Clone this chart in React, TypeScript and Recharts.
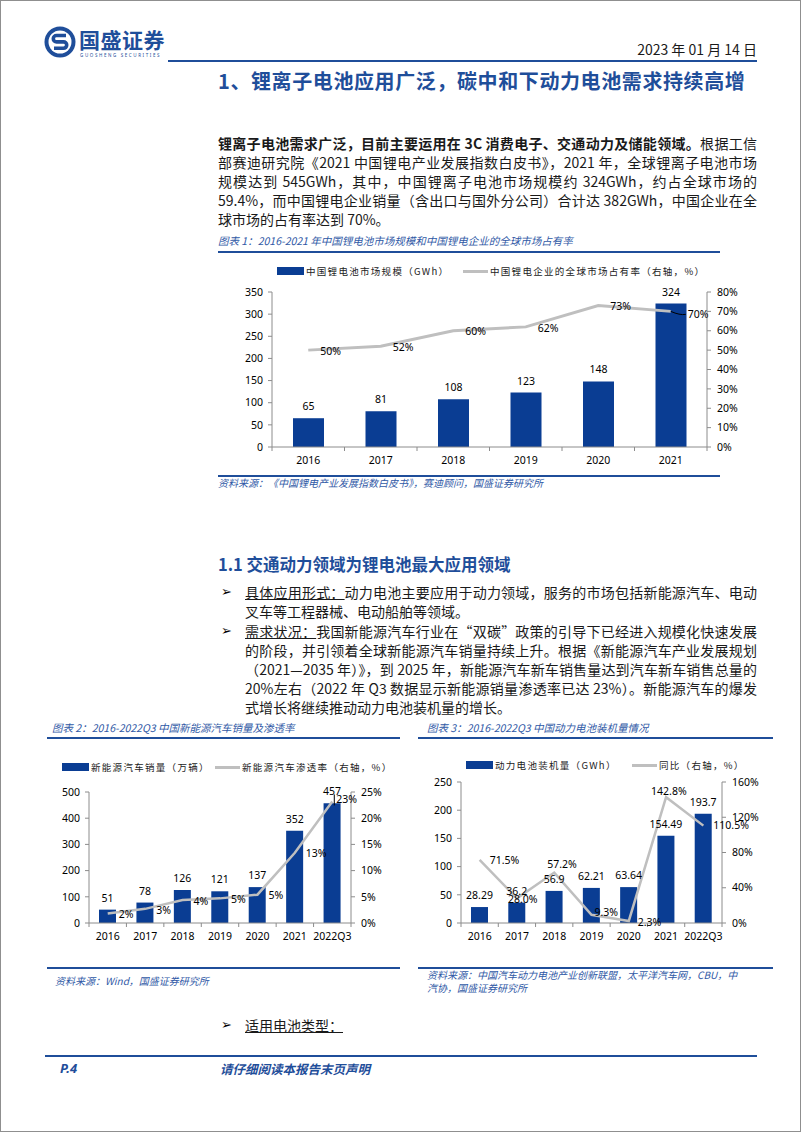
import React from 'react';
import { ComposedChart, Bar, Line, XAxis, YAxis, LabelList } from 'recharts';

// ---------- data ----------
// Chart 1
const years1 = ['2016', '2017', '2018', '2019', '2020', '2021'];
const marketSize = [65, 81, 108, 123, 148, 324];
const globalShare = [50, 52, 60, 62, 73, 70];
const leftTicks1 = [0, 50, 100, 150, 200, 250, 300, 350];
const rightTicks1 = [0, 10, 20, 30, 40, 50, 60, 70, 80];

// Chart 2
const years2 = ['2016', '2017', '2018', '2019', '2020', '2021', '2022Q3'];
const nevSales = [51, 78, 126, 121, 137, 352, 457];
const nevPenetration = [1.8, 2.7, 4.4, 4.7, 5.4, 13.4, 23.2];
const leftTicks2 = [0, 100, 200, 300, 400, 500];
const rightTicks2 = [0, 5, 10, 15, 20, 25];

// Chart 3
const years3 = ['2016', '2017', '2018', '2019', '2020', '2021', '2022Q3'];
const batteryInstalled = [28.29, 36.2, 56.9, 62.21, 63.64, 154.49, 193.7];
const batteryYoY = [71.5, 28.0, 57.2, 9.3, 2.3, 142.8, 110.5];
const leftTicks3 = [0, 50, 100, 150, 200, 250];
const rightTicks3 = [0, 40, 80, 120, 160];

const data1 = years1.map((c, i) => ({ cat: c, bar: marketSize[i], line: globalShare[i] }));
const data2 = years2.map((c, i) => ({ cat: c, bar: nevSales[i], line: nevPenetration[i] }));
const data3 = years3.map((c, i) => ({ cat: c, bar: batteryInstalled[i], line: batteryYoY[i] }));

// ---------- styles ----------
const BLUE = '#1f4e9a';
const CAP_BLUE = '#3059a6';
const BAR = '#0a3d93';
const GREY_LINE = '#bfbfbf';
const AXIS = '#8c8c8c';
const FONT_CJK = '"Noto Sans CJK SC", "Noto Sans", sans-serif';
const FONT_NUM = '"Noto Sans", "DejaVu Sans", sans-serif';
const NUM_SIZE = 10.5;

// label nudges for chart 3 line labels (dx from point to label start, dy)
const NUDGE3: [number, number][] = [[10, 0], [-9, 1], [-7, -8], [3, -2], [9, 1], [-15, -6], [10, 0]];

function pt(props: any, values: number[]) {
  const vb = props.viewBox || {};
  const x = props.x != null ? props.x : (vb.x || 0) + (vb.width || 0) / 2;
  const y = props.y != null ? props.y : (vb.y || 0) + (vb.height || 0) / 2;
  const value = props.value;
  const index = props.index != null ? props.index : values.indexOf(value);
  return { x, y, value, index };
}

const shareLabel = (props: any) => {
  const { x, y, value, index } = pt(props, globalShare);
  const last = index === globalShare.length - 1;
  return (
    <g>
      {last && <path d={`M${x} ${y} Q${x + 9} ${y + 4} ${x + 15} ${y + 3}`} stroke="#000" fill="none" strokeWidth={1} />}
      <text x={x + (last ? 17 : 12)} y={y + (last ? 3 : 1)} dy="0.35em" fontSize={NUM_SIZE} fontFamily={FONT_NUM} fill="#000">
        {Number(value).toFixed(0)}%
      </text>
    </g>
  );
};

const penLabel = (props: any) => {
  const { x, y, value, index } = pt(props, nevPenetration);
  const last = index === nevPenetration.length - 1;
  return (
    <g>
      {last && <line x1={x + 2} x2={x + 2} y1={y - 7} y2={y + 4} stroke="#000" strokeWidth={1} />}
      <text x={x + (last ? 4 : 11)} y={y + (last ? -2 : 1)} dy="0.35em" fontSize={NUM_SIZE} fontFamily={FONT_NUM} fill="#000">
        {Number(value).toFixed(0)}%
      </text>
    </g>
  );
};

const yoyLabel = (props: any) => {
  const { x, y, value, index } = pt(props, batteryYoY);
  const n = NUDGE3[index] || [10, 0];
  return (
    <text x={x + n[0]} y={y + n[1]} dy="0.35em" fontSize={NUM_SIZE} fontFamily={FONT_NUM} fill="#000">
      {Number(value).toFixed(1)}%
    </text>
  );
};

type ChartProps = {
  data: any[];
  x: number; y: number; w: number; h: number;
  plotL: number; plotR: number; plotT: number; plotB: number;
  leftTicks: number[]; rightTicks: number[];
  barSize: number; lineW: number;
  lineLabel: (p: any) => any;
};

function DualChart(p: ChartProps) {
  const n = p.data.length;
  const band = (p.plotR - p.plotL) / n;
  const xAxisH = 26;
  const axisY = p.plotB - p.y;
  const margin = { top: p.plotT - p.y, left: 0, right: 0, bottom: p.h - (p.plotB - p.y) - xAxisH };
  const tickStyle = { fill: '#000', fontSize: NUM_SIZE, fontFamily: FONT_NUM };
  const XTick = (tp: any) => {
    const cx = tp.x;
    const idx = tp.index;
    return (
      <g>
        <line x1={cx - band / 2} x2={cx - band / 2} y1={axisY} y2={axisY + 4} stroke={AXIS} strokeWidth={1} />
        {idx === n - 1 && <line x1={cx + band / 2} x2={cx + band / 2} y1={axisY} y2={axisY + 4} stroke={AXIS} strokeWidth={1} />}
        <text x={cx} y={axisY + 17} textAnchor="middle" {...tickStyle}>{tp.payload.value}</text>
      </g>
    );
  };
  const lt = p.leftTicks, rt = p.rightTicks;
  return (
    <div style={{ position: 'absolute', left: p.x, top: p.y }}>
      <ComposedChart width={p.w} height={p.h} data={p.data} margin={margin}>
        <XAxis xAxisId="x" dataKey="cat" height={xAxisH} interval={0} tickLine={false} tickSize={0} tickMargin={0}
          axisLine={{ stroke: AXIS }} tick={(tp: any) => <XTick {...tp} />} />
        <YAxis yAxisId="l" orientation="left" width={p.plotL - p.x} domain={[lt[0], lt[lt.length - 1]]} ticks={lt}
          interval={0} tickSize={4} tickMargin={5} axisLine={{ stroke: AXIS }} tickLine={{ stroke: AXIS }} tick={tickStyle} />
        <YAxis yAxisId="r" orientation="right" width={p.x + p.w - p.plotR} domain={[rt[0], rt[rt.length - 1]]} ticks={rt}
          interval={0} tickSize={4} tickMargin={6} axisLine={{ stroke: AXIS }} tickLine={{ stroke: AXIS }} tick={tickStyle}
          tickFormatter={(v: number) => `${v}%`} />
        <Bar xAxisId="x" yAxisId="l" dataKey="bar" fill={BAR} barSize={p.barSize} isAnimationActive={false}>
          <LabelList dataKey="bar" position="top" offset={8} fill="#000" fontSize={NUM_SIZE} fontFamily={FONT_NUM} />
        </Bar>
        <Line xAxisId="x" yAxisId="r" type="linear" dataKey="line" stroke={GREY_LINE} strokeWidth={p.lineW} dot={false}
          isAnimationActive={false}>
          <LabelList dataKey="line" content={p.lineLabel} />
        </Line>
      </ComposedChart>
    </div>
  );
}

// ---------- text helpers ----------
function T(props: { x: number; y: number; size: number; children: any; style?: React.CSSProperties; right?: boolean; lhf?: number }) {
  const lh = Math.round(props.size * (props.lhf || 1.4));
  const pos: React.CSSProperties = props.right ? { right: 802 - props.x } : { left: props.x };
  return (
    <div style={{ position: 'absolute', ...pos, top: props.y - lh / 2, lineHeight: `${lh}px`, fontSize: props.size, whiteSpace: 'nowrap', ...props.style }}>
      {props.children}
    </div>
  );
}

function J(props: { x: number; y: number; w: number; size: number; children: any; last?: boolean }) {
  const lh = Math.round(props.size * 1.3);
  return (
    <div style={{
      position: 'absolute', left: props.x, top: props.y - lh / 2, width: props.w, height: lh, lineHeight: `${lh}px`,
      fontSize: props.size, textAlign: 'justify', textAlignLast: props.last ? 'left' : 'justify', color: '#1a1a1a',
    }}>
      {props.children}
    </div>
  );
}

function HLine(props: { x1: number; x2: number; y: number; t: number; color?: string }) {
  return <div style={{ position: 'absolute', left: props.x1, top: props.y - props.t / 2, width: props.x2 - props.x1, height: props.t, background: props.color || BLUE }} />;
}

function LegendBox(props: { x: number; y: number; barText: string; lineX: number; lineText: string }) {
  const txt: React.CSSProperties = { fontSize: 9.5, letterSpacing: 1.3, color: '#222' };
  return (
    <>
      <div style={{ position: 'absolute', left: props.x, top: props.y - 4, width: 27, height: 8, background: BAR }} />
      <T x={props.x + 29} y={props.y} size={9.5} lhf={1.2} style={txt}>{props.barText}</T>
      <div style={{ position: 'absolute', left: props.lineX, top: props.y - 1.5, width: 25, height: 3, background: GREY_LINE }} />
      <T x={props.lineX + 27} y={props.y} size={9.5} lhf={1.2} style={txt}>{props.lineText}</T>
    </>
  );
}

const capStyle: React.CSSProperties = { color: CAP_BLUE, fontStyle: 'italic' };
const bullet: React.CSSProperties = { fontFamily: '"DejaVu Sans", sans-serif', color: '#000' };

export default function App() {
  const BS = 14; // body size
  return (
    <div style={{ position: 'absolute', left: 0, top: 0, width: 802, height: 1133, background: '#fff', overflow: 'hidden', fontFamily: FONT_CJK, color: '#1a1a1a' }}>
      {/* page frame */}
      <div style={{ position: 'absolute', left: 0, top: 0, width: 801, height: 1132, boxSizing: 'border-box', border: '1.5px solid #8f8f8f' }} />

      {/* header */}
      <svg style={{ position: 'absolute', left: 44, top: 26 }} width={32} height={32} viewBox="0 0 32 32">
        <circle cx={16} cy={16} r={15.5} fill={BLUE} />
        <circle cx={16} cy={16} r={11.5} fill="#fff" />
        <path d="M22 9.5 H12.5 a3.2 3.2 0 0 0 0 6.4 H19.5 a3.2 3.2 0 0 1 0 6.4 H10" stroke={BLUE} strokeWidth={3.6} fill="none" />
      </svg>
      <T x={79} y={39} size={21} lhf={1.1} style={{ fontWeight: 700, color: BLUE, letterSpacing: 0.5 }}>国盛证券</T>
      <T x={80} y={55} size={4.5} lhf={1.2} style={{ color: BLUE, letterSpacing: 1.6, fontFamily: FONT_NUM }}>GUOSHENG SECURITIES</T>
      <T x={757} y={49} size={14} right style={{ color: '#1a1a1a' }}>2023 年 01 月 14 日</T>
      <HLine x1={168} x2={757} y={61} t={2} />
      <T x={218} y={81} size={20} style={{ fontWeight: 700, color: BLUE, letterSpacing: 0.6 }}>1、锂离子电池应用广泛，碳中和下动力电池需求持续高增</T>

      {/* paragraph */}
      <J x={218} y={143} w={539} size={BS}><b>锂离子电池需求广泛，目前主要运用在 3C 消费电子、交通动力及储能领域。</b>根据工信</J>
      <J x={218} y={162} w={539} size={BS}>部赛迪研究院《2021 中国锂电产业发展指数白皮书》，2021 年，全球锂离子电池市场</J>
      <J x={218} y={181} w={539} size={BS}>规模达到 545GWh，其中，中国锂离子电池市场规模约 324GWh，约占全球市场的</J>
      <J x={218} y={200} w={539} size={BS}>59.4%，而中国锂电企业销量（含出口与国外分公司）合计达 382GWh，中国企业在全</J>
      <J x={218} y={219} w={539} size={BS} last>球市场的占有率达到 70%。</J>

      {/* chart 1 */}
      <T x={218} y={240} size={10.5} lhf={1.2} style={capStyle}>图表 1：2016-2021 年中国锂电池市场规模和中国锂电企业的全球市场占有率</T>
      <HLine x1={218} x2={720} y={252} t={1.5} />
      <LegendBox x={277} y={271} barText="中国锂电池市场规模（GWh）" lineX={463} lineText="中国锂电企业的全球市场占有率（右轴，%）" />
      <DualChart data={data1} x={218} y={262} w={540} h={212} plotL={272} plotR={707} plotT={292} plotB={447}
        leftTicks={leftTicks1} rightTicks={rightTicks1} barSize={31} lineW={3} lineLabel={shareLabel} />
      <HLine x1={218} x2={720} y={476} t={1.5} />
      <T x={218} y={483} size={10} lhf={1.2} style={capStyle}>资料来源：《中国锂电产业发展指数白皮书》，赛迪顾问，国盛证券研究所</T>

      {/* section 1.1 */}
      <T x={218} y={564} size={16.5} style={{ fontWeight: 700, color: BLUE }}>1.1 交通动力领域为锂电池最大应用领域</T>
      <T x={221} y={592} size={13} lhf={1.2} style={bullet}>➢</T>
      <J x={245} y={592} w={512} size={BS}><span style={{ textDecoration: 'underline' }}>具体应用形式：</span>动力电池主要应用于动力领域，服务的市场包括新能源汽车、电动</J>
      <J x={245} y={611} w={512} size={BS} last>叉车等工程器械、电动船舶等领域。</J>
      <T x={221} y={631} size={13} lhf={1.2} style={bullet}>➢</T>
      <J x={245} y={631} w={512} size={BS}><span style={{ textDecoration: 'underline' }}>需求状况：</span>我国新能源汽车行业在“双碳”政策的引导下已经进入规模化快速发展</J>
      <J x={245} y={650} w={512} size={BS}>的阶段，并引领着全球新能源汽车销量持续上升。根据《新能源汽车产业发展规划</J>
      <J x={245} y={669} w={512} size={BS}>（2021—2035 年）》，到 2025 年，新能源汽车新车销售量达到汽车新车销售总量的</J>
      <J x={245} y={688} w={512} size={BS}>20%左右（2022 年 Q3 数据显示新能源销量渗透率已达 23%）。新能源汽车的爆发</J>
      <J x={245} y={707} w={512} size={BS} last>式增长将继续推动动力电池装机量的增长。</J>

      {/* chart 2 */}
      <T x={52} y={727} size={10.5} lhf={1.2} style={capStyle}>图表 2：2016-2022Q3 中国新能源汽车销量及渗透率</T>
      <HLine x1={47} x2={400} y={738} t={1.5} />
      <LegendBox x={62} y={767} barText="新能源汽车销量（万辆）" lineX={215} lineText="新能源汽车渗透率（右轴，%）" />
      <DualChart data={data2} x={40} y={780} w={360} h={170} plotL={89} plotR={351} plotT={792} plotB={923}
        leftTicks={leftTicks2} rightTicks={rightTicks2} barSize={17} lineW={2.5} lineLabel={penLabel} />
      <HLine x1={47} x2={400} y={968} t={1.5} />
      <T x={55} y={981} size={10} lhf={1.2} style={capStyle}>资料来源：Wind，国盛证券研究所</T>

      {/* chart 3 */}
      <T x={427} y={727} size={10.5} lhf={1.2} style={capStyle}>图表 3：2016-2022Q3 中国动力电池装机量情况</T>
      <HLine x1={418} x2={773} y={738} t={1.5} />
      <LegendBox x={466} y={765} barText="动力电池装机量（GWh）" lineX={632} lineText="同比（右轴，%）" />
      <DualChart data={data3} x={412} y={770} w={360} h={180} plotL={461} plotR={722} plotT={782} plotB={923}
        leftTicks={leftTicks3} rightTicks={rightTicks3} barSize={17} lineW={2.5} lineLabel={yoyLabel} />
      <HLine x1={418} x2={773} y={968} t={1.5} />
      <T x={427} y={975} size={10} lhf={1.2} style={capStyle}>资料来源：中国汽车动力电池产业创新联盟，太平洋汽车网，CBU，中</T>
      <T x={427} y={988} size={10} lhf={1.2} style={capStyle}>汽协，国盛证券研究所</T>

      {/* bottom bullet */}
      <T x={221} y={1025} size={13} lhf={1.2} style={bullet}>➢</T>
      <T x={245} y={1025} size={BS} style={{ textDecoration: 'underline' }}>适用电池类型：</T>

      {/* footer */}
      <HLine x1={45} x2={757} y={1056} t={2.5} />
      <T x={60} y={1068} size={13} lhf={1.2} style={{ color: BLUE, fontWeight: 700, fontStyle: 'italic', fontFamily: FONT_NUM }}>P.4</T>
      <T x={220} y={1068} size={12.5} lhf={1.2} style={{ color: BLUE, fontWeight: 700, fontStyle: 'italic' }}>请仔细阅读本报告末页声明</T>
    </div>
  );
}
